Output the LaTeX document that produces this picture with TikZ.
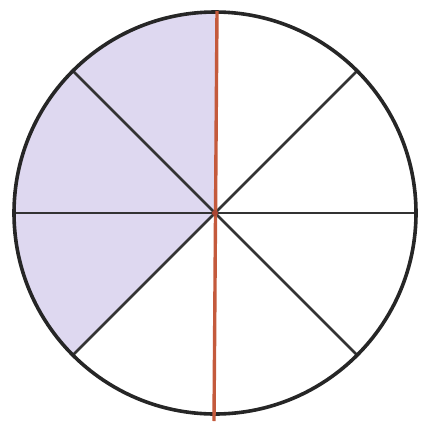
\documentclass[tikz,border=0pt]{standalone}
\definecolor{axisred}{RGB}{196,90,60}
\definecolor{centerred}{RGB}{170,70,50}
\definecolor{lav}{RGB}{222,216,240}
\begin{document}
\begin{tikzpicture}[x=1pt,y=-1pt,
  rim/.style={draw=black!85,line width=3.6pt},
  spoke/.style={draw=black!80,line width=2.6pt},
  axis/.style={draw=axisred,line width=3.4pt},
  shade/.style={fill=lav}]
\useasboundingbox (0,0) rectangle (423,421);
\coordinate (O) at (215,213);
\def\R{201}
% shaded sectors (90 to 225 degrees)
\fill[shade] (O) -- ++(0,-\R) arc[start angle=-90,end angle=-225,radius=\R] -- cycle;
% spokes
\foreach \a in {45,135,225,315}{
  \draw[spoke] (O) -- ++(\a:\R);
}
\draw[spoke] (O) ++(-\R,0) coordinate (L) -- ++(2*\R,0) coordinate (Rr);
% circle
\draw[rim] (O) circle[radius=\R];
% red vertical line
\coordinate (T) at (217,11);
\coordinate (B) at (214,421);
\draw[axis] (T) -- (B);
\fill[centerred] (O) circle[radius=3];
\end{tikzpicture}
\end{document}
